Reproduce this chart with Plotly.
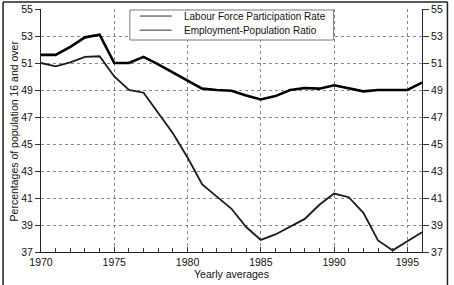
import plotly.graph_objects as go

years = list(range(1970, 1997))
labour_force = [51.6, 51.6, 52.2, 52.9, 53.1, 51.0, 51.0, 51.45, 50.9, 50.3, 49.65,
                49.1, 49.0, 48.95, 48.6, 48.3, 48.55, 49.0, 49.15, 49.1, 49.35,
                49.15, 48.9, 49.0, 49.0, 49.0, 49.55]
employment = [51.0, 50.75, 51.05, 51.45, 51.5, 50.0, 49.0, 48.8, 47.3, 45.8, 44.0,
              42.0, 41.1, 40.2, 38.85, 37.9, 38.3, 38.9, 39.45, 40.5, 41.33,
              41.06, 39.9, 37.86, 37.12, 37.8, 38.46]
series_names = ["Labour Force Participation Rate", "Employment-Population Ratio"]
y_ticks = [37, 39, 41, 43, 45, 47, 49, 51, 53, 55]
x_ticks = [1970, 1975, 1980, 1985, 1990, 1995]

FAM = "Liberation Sans, Arial, sans-serif"
font = dict(family=FAM, size=10.5, color="#111")
title_font = dict(family=FAM, size=10.5, color="#111")
legend_font = dict(family=FAM, size=10, color="#111")

fig = go.Figure()
fig.add_trace(go.Scatter(x=years, y=labour_force, mode="lines",
                         name=series_names[0],
                         line=dict(color="#000", width=2.6)))
fig.add_trace(go.Scatter(x=years, y=employment, mode="lines",
                         name=series_names[1],
                         line=dict(color="#1a1a1a", width=1.8)))
# invisible trace to activate right axis
fig.add_trace(go.Scatter(x=[years[0]], y=[y_ticks[0]], yaxis="y2", mode="lines",
                         showlegend=False, hoverinfo="skip", line=dict(width=0)))

# manual compact legend (paper coordinates)
lg_x0, lg_x1, lg_y0, lg_y1 = 0.2333, 0.768, 0.8724, 0.9959
row_y = [0.971, 0.913]
shapes = [
    dict(type="rect", xref="paper", yref="paper", x0=lg_x0, x1=lg_x1, y0=lg_y0, y1=lg_y1,
         fillcolor="white", line=dict(color="#777", width=1), layer="above"),
]
annotations = []
for name, ry in zip(series_names, row_y):
    shapes.append(dict(type="line", xref="paper", yref="paper", x0=0.259, x1=0.343,
                       y0=ry, y1=ry, line=dict(color="#333", width=1), layer="above"))
    annotations.append(dict(text=name, xref="paper", yref="paper", x=0.369, y=ry,
                            xanchor="left", yanchor="middle", showarrow=False,
                            font=legend_font))

# outer frame
shapes += [
    dict(type="line", xref="paper", yref="paper", x0=-0.0996, x1=-0.0996,
         y0=-0.2, y1=1.0288, line=dict(color="#222", width=1.5)),
    dict(type="line", xref="paper", yref="paper", x0=1.0668, x1=1.0668,
         y0=-0.2, y1=1.0288, line=dict(color="#222", width=1.5)),
    dict(type="line", xref="paper", yref="paper", x0=-0.0996, x1=1.0668,
         y0=1.0288, y1=1.0288, line=dict(color="#222", width=1.5)),
]
annotations += [
    dict(text="Percentages of population 16 and over", xref="paper", yref="paper",
         x=-0.071, y=0.5, textangle=-90, showarrow=False, xanchor="center",
         yanchor="middle", font=title_font),
    dict(text="Yearly averages", xref="paper", yref="paper",
         x=0.5, y=-0.0905, showarrow=False, xanchor="center", yanchor="middle",
         font=title_font),
]

fig.update_layout(
    template="none",
    width=454, height=285,
    margin=dict(l=41, r=31.5, t=9, b=33, autoexpand=False),
    paper_bgcolor="white", plot_bgcolor="white",
    font=font,
    showlegend=False,
    xaxis=dict(range=[1970, 1996], tickvals=x_ticks, ticks="inside", ticklen=5,
               tickcolor="#333", showline=True, linecolor="#222", linewidth=1,
               showgrid=True, gridcolor="#888", griddash="dot", gridwidth=1,
               minor=dict(dtick=1, ticks="inside", ticklen=4, tickcolor="#333",
                          showgrid=False),
               zeroline=False, tickfont=font, automargin=False),
    yaxis=dict(range=[37, 55], tickvals=y_ticks, ticks="outside", ticklen=5,
               tickcolor="#333", showline=True, linecolor="#222", linewidth=1,
               showgrid=True, gridcolor="#888", griddash="dot", gridwidth=1,
               zeroline=False, tickfont=font, automargin=False),
    yaxis2=dict(range=[37, 55], tickvals=y_ticks, ticks="outside", ticklen=6,
                tickcolor="#333", showline=True, linecolor="#222", linewidth=1,
                overlaying="y", side="right", showgrid=False, zeroline=False,
                tickfont=font, automargin=False),
    annotations=annotations,
    shapes=shapes,
)

fig.write_html("out.html")
